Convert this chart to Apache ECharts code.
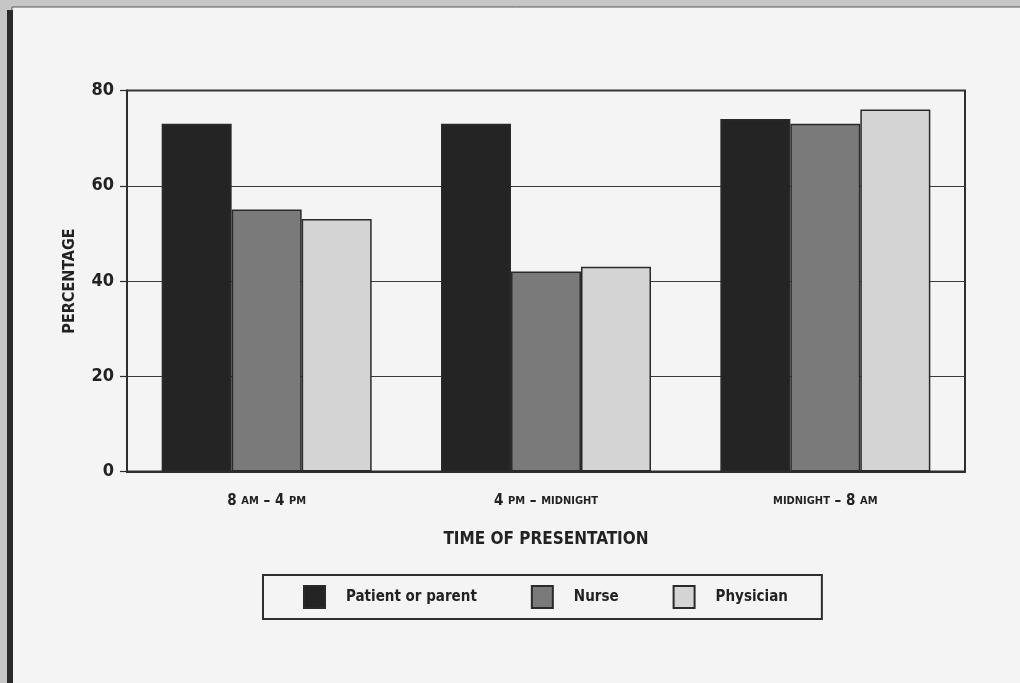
<!DOCTYPE html>
<html>
<head>
<meta charset="utf-8">
<script src="https://cdn.jsdelivr.net/npm/echarts@6/dist/echarts.min.js"></script>
<style>html,body{margin:0;padding:0;background:#c6c6c6;}#c{width:1020px;height:683px;}</style>
</head>
<body>
<div id="c"></div>
<script>
const categories = ['8 AM – 4 PM', '4 PM – MIDNIGHT', 'MIDNIGHT – 8 AM'];
const seriesNames = ['Patient or parent', 'Nurse', 'Physician'];
const patientValues = [73, 73, 74];
const nurseValues = [55, 42, 73];
const physicianValues = [53, 43, 76];
const yTicks = [0, 20, 40, 60, 80];

const FONT = "'Liberation Sans Narrow', 'DejaVu Sans Condensed', 'Liberation Sans', sans-serif";
const colors = ['#242424', '#7a7a7a', '#d4d4d4'];
const dataSets = [patientValues, nurseValues, physicianValues];

function fmtCat(v) {
  return v.split(' ').map(w => {
    if (w === 'AM' || w === 'PM' || w === 'MIDNIGHT') return '{s|' + w + '}';
    return '{n|' + w + '}';
  }).join('{n| }');
}

const chart = echarts.init(document.getElementById('c'), null, {renderer: 'canvas'});
chart.setOption({
  backgroundColor: '#c6c6c6',
  animation: false,
  graphic: {
    elements: [
      {type: 'rect', z: -100, shape: {x: 12, y: 7, width: 1010, height: 680}, style: {fill: '#f4f4f4', stroke: '#555', lineWidth: 1}},
      {type: 'rect', z: -99, shape: {x: 7, y: 10, width: 6, height: 673}, style: {fill: '#2a2a2a'}}
    ]
  },
  grid: {
    left: 127, right: 55, top: 90.5, bottom: 211.5,
    show: true, borderColor: '#2e2e2e', borderWidth: 2, backgroundColor: 'transparent'
  },
  legend: {
    left: 263, top: 575,
    data: seriesNames,
    orient: 'horizontal',
    itemWidth: 21, itemHeight: 22,
    itemGap: 54,
    padding: [10, 34, 10, 40],
    borderColor: '#2e2e2e', borderWidth: 2,
    backgroundColor: 'transparent',
    icon: 'rect',
    selectedMode: false,
    textStyle: {fontFamily: FONT, fontWeight: 'bold', fontSize: 15, color: '#222', padding: [0, 0, 0, 16]}
  },
  xAxis: {
    type: 'category',
    data: categories,
    name: 'TIME OF PRESENTATION',
    nameLocation: 'middle',
    nameGap: 60,
    nameTextStyle: {fontFamily: FONT, fontWeight: 'bold', fontSize: 17, color: '#222'},
    axisLine: {lineStyle: {color: '#2e2e2e', width: 2}},
    axisTick: {show: false},
    axisLabel: {
      interval: 0,
      margin: 22,
      formatter: fmtCat,
      rich: {
        n: {fontFamily: FONT, fontWeight: 'bold', fontSize: 15, color: '#222'},
        s: {fontFamily: FONT, fontWeight: 'bold', fontSize: 11, color: '#222'}
      }
    }
  },
  yAxis: {
    type: 'value',
    min: yTicks[0], max: yTicks[yTicks.length - 1], interval: 20,
    name: 'PERCENTAGE',
    nameLocation: 'middle',
    nameGap: 49,
    nameTextStyle: {fontFamily: FONT, fontWeight: 'bold', fontSize: 16, color: '#222'},
    axisLine: {show: true, lineStyle: {color: '#2e2e2e', width: 2}},
    axisTick: {show: true, length: 7, lineStyle: {color: '#2e2e2e', width: 1.2}},
    axisLabel: {fontFamily: FONT, fontWeight: 'bold', fontSize: 18, color: '#222', margin: 13},
    splitLine: {show: true, lineStyle: {color: '#3a3a3a', width: 1.2}}
  },
  series: seriesNames.map((name, i) => ({
    name: name,
    type: 'bar',
    data: dataSets[i],
    barWidth: 70,
    barGap: '0%',
    itemStyle: {color: colors[i], borderColor: '#2a2a2a', borderWidth: 1.5}
  }))
});
</script>
</body>
</html>
